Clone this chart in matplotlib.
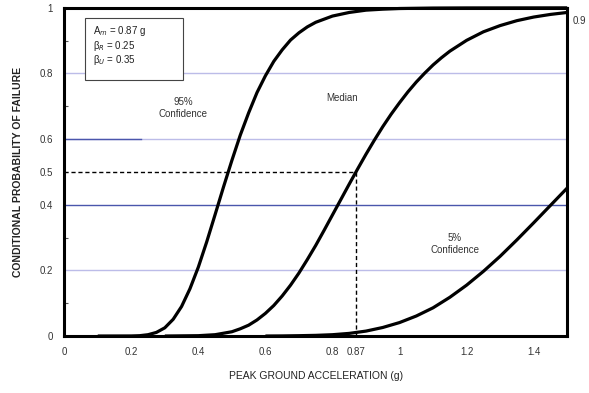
import matplotlib
matplotlib.use("Agg")
import matplotlib.pyplot as plt
from matplotlib.patches import Rectangle

# fragility curves (PGA in g, probability of failure)
X_95 = [0.10, 0.20, 0.225, 0.25, 0.275, 0.30, 0.325, 0.35, 0.375, 0.40, 0.425,
        0.45, 0.475, 0.50, 0.525, 0.55, 0.575, 0.60, 0.625, 0.65, 0.675, 0.70,
        0.725, 0.75, 0.80, 0.85, 0.90, 0.95, 1.00, 1.10, 1.20, 1.50]
Y_95 = [0.0, 0.0002, 0.001, 0.004, 0.011, 0.025, 0.051, 0.09, 0.144, 0.21,
        0.287, 0.37, 0.454, 0.535, 0.612, 0.68, 0.742, 0.793, 0.837, 0.872,
        0.902, 0.924, 0.942, 0.956, 0.975, 0.986, 0.993, 0.996, 0.998, 0.9994,
        0.9998, 1.0]

X_MED = [0.30, 0.40, 0.45, 0.50, 0.525, 0.55, 0.575, 0.60, 0.625, 0.65, 0.675,
         0.70, 0.725, 0.75, 0.775, 0.80, 0.825, 0.85, 0.875, 0.90, 0.925, 0.95,
         0.975, 1.00, 1.025, 1.05, 1.075, 1.10, 1.125, 1.15, 1.20, 1.25, 1.30,
         1.35, 1.40, 1.45, 1.50]
Y_MED = [0.0, 0.001, 0.004, 0.013, 0.022, 0.033, 0.049, 0.069, 0.093, 0.122,
         0.155, 0.192, 0.233, 0.276, 0.322, 0.369, 0.416, 0.463, 0.509, 0.554,
         0.597, 0.638, 0.676, 0.711, 0.744, 0.774, 0.801, 0.826, 0.848, 0.868,
         0.901, 0.927, 0.946, 0.961, 0.972, 0.980, 0.986]

X_5 = [0.60, 0.65, 0.70, 0.75, 0.80, 0.85, 0.90, 0.95, 1.00, 1.05, 1.10, 1.15,
       1.20, 1.25, 1.30, 1.35, 1.40, 1.45, 1.50]
Y_5 = [0.0, 0.0003, 0.001, 0.002, 0.004, 0.008, 0.015, 0.026, 0.041, 0.061,
       0.086, 0.118, 0.155, 0.197, 0.243, 0.293, 0.345, 0.398, 0.451]

A_M = 0.87
X_TICKS = [0, 0.2, 0.4, 0.6, 0.8, 0.87, 1, 1.2, 1.4]
X_TICKLABELS = ["0", "0.2", "0.4", "0.6", "0.8", "0.87", "1", "1.2", "1.4"]
Y_TICKS = [0, 0.2, 0.4, 0.5, 0.6, 0.8, 1]
Y_TICKLABELS = ["0", "0.2", "0.4", "0.5", "0.6", "0.8", "1"]

plt.rcParams["font.family"] = ["Liberation Sans", "DejaVu Sans"]

fig = plt.figure(figsize=(5.89, 3.93), dpi=100)
ax = fig.add_axes([0.109, 0.145, 0.854, 0.835])
ax.set_xlim(0, 1.5)
ax.set_ylim(0, 1)

LIGHT = "#bcbce8"
DARK = "#4a56ac"
for yv in (0.2, 0.8):
    ax.axhline(yv, color=LIGHT, linewidth=1.0, zorder=1)
ax.axhline(0.4, color=DARK, linewidth=1.0, zorder=1)
ax.plot([0, 1.5], [0.6, 0.6], color=LIGHT, linewidth=1.0, zorder=1)
ax.plot([0, 0.23], [0.6, 0.6], color=DARK, linewidth=1.0, zorder=1)

ax.plot([0, A_M], [0.5, 0.5], color="black", linestyle=(0, (3, 2)),
        linewidth=1.0, zorder=2)
ax.plot([A_M, A_M], [0, 0.5], color="black", linestyle=(0, (3, 2)),
        linewidth=1.0, zorder=2)

for xs, ys in ((X_95, Y_95), (X_MED, Y_MED), (X_5, Y_5)):
    ax.plot(xs, ys, color="black", linewidth=2.3, zorder=3, clip_on=False,
            solid_capstyle="butt", solid_joinstyle="round")

for spine in ax.spines.values():
    spine.set_linewidth(2.2)
    spine.set_color("black")

ax.set_xticks(X_TICKS)
ax.set_xticklabels(X_TICKLABELS)
ax.set_yticks(Y_TICKS)
ax.set_yticklabels(Y_TICKLABELS)
ax.tick_params(axis="both", length=0, labelsize=7, colors="#333333", pad=8)
ax.set_xticks([0.2, 0.4, 0.6, 0.8, 1.0, 1.2, 1.4], minor=True)
ax.set_yticks([0.1, 0.3, 0.7, 0.9], minor=True)
ax.tick_params(which="minor", direction="in", length=3, width=0.8,
               color="#555555")

ax.set_xlabel("PEAK GROUND ACCELERATION (g)", fontsize=7.5, color="#222222",
              labelpad=10)
ax.set_ylabel("CONDITIONAL PROBABILITY OF FAILURE", fontsize=7.5,
              fontweight="bold", color="#222222", labelpad=12)

ax.add_patch(Rectangle((0.063, 0.78), 0.292, 0.19, facecolor="white",
                       edgecolor="#444444", linewidth=0.8, zorder=5))
ax.text(0.087, 0.95,
        "A$_m$ = 0.87 g\nβ$_R$ = 0.25\nβ$_U$ = 0.35",
        fontsize=7, va="top", ha="left", linespacing=1.05, zorder=6,
        color="#222222")

ax.text(0.355, 0.695, "95%\nConfidence", fontsize=7, ha="center",
        va="center", color="#333333")
ax.text(0.83, 0.725, "Median", fontsize=7, ha="center", va="center",
        color="#333333")
ax.text(1.165, 0.28, "5%\nConfidence", fontsize=7, ha="center",
        va="center", color="#333333")
ax.text(1.515, 0.96, "0.9", fontsize=7, ha="left", va="center",
        color="#333333")

fig.savefig("out.png", dpi=100, facecolor="white")
